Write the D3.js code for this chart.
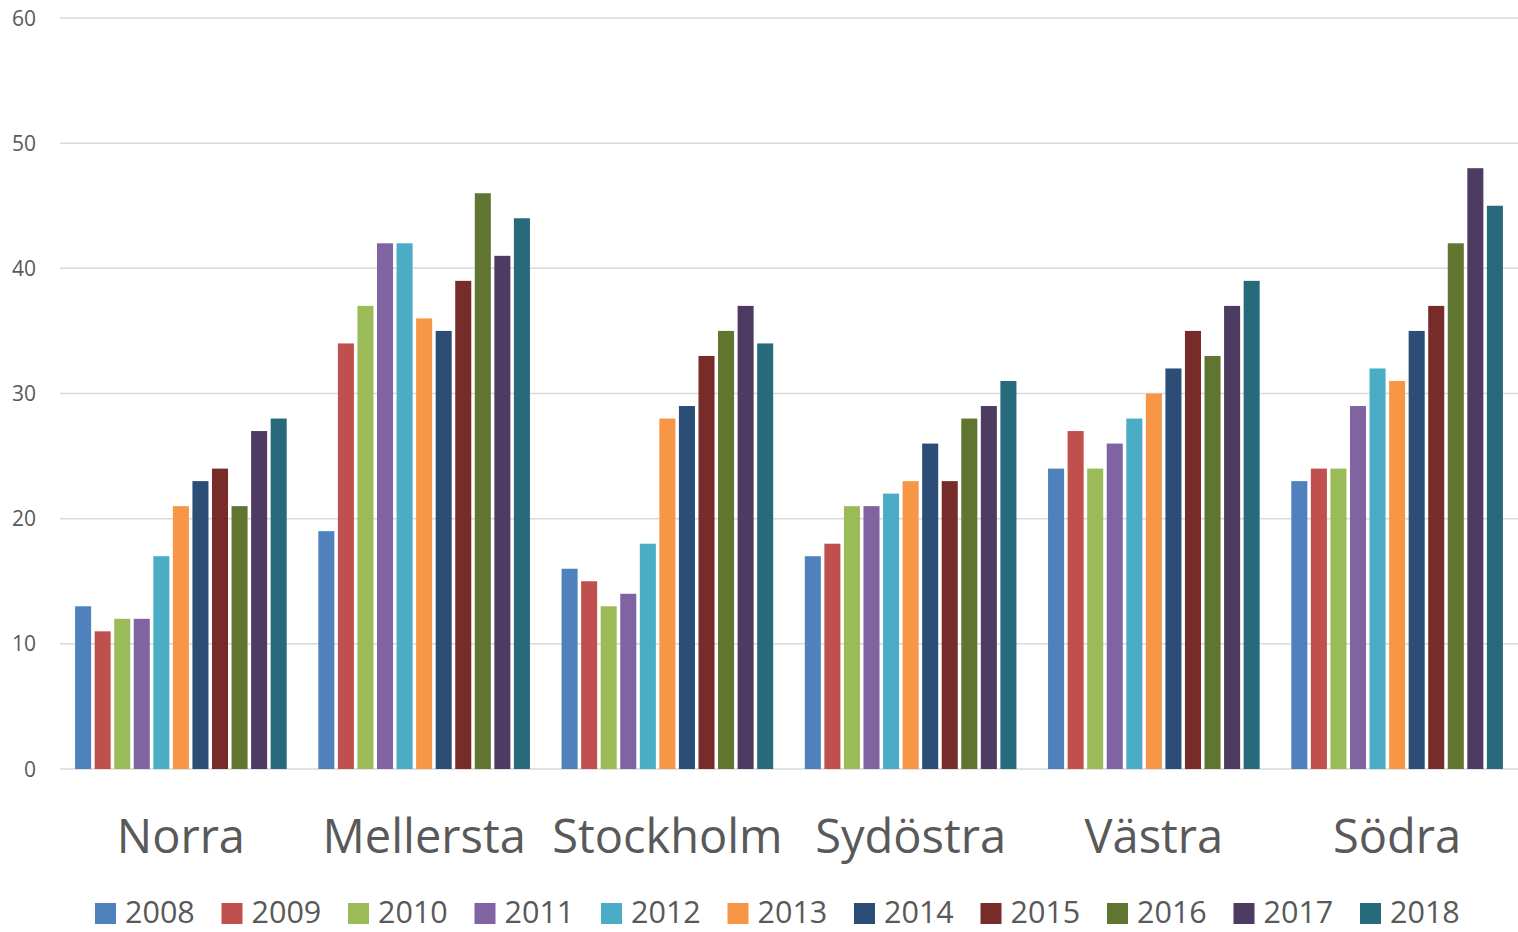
<!DOCTYPE html>
<html>
<head>
<meta charset="utf-8">
<script src="https://cdn.jsdelivr.net/npm/d3@7"></script>
<style>
  html, body { margin: 0; padding: 0; background: #fff; }
  svg { display: block; }
  text { font-family: "Open Sans", Lato, sans-serif; fill: #595959; }
</style>
</head>
<body>
<svg id="chart" width="1518" height="932"></svg>
<script>
const categories = ["Norra", "Mellersta", "Stockholm", "Sydöstra", "Västra", "Södra"];
const years = ["2008","2009","2010","2011","2012","2013","2014","2015","2016","2017","2018"];
const colors = ["#4F81BD","#C0504D","#9BBB59","#8064A2","#4BACC6","#F79646","#2C4D75","#772C2A","#5F7530","#4D3B62","#276A7C"];
const norra     = [13,11,12,12,17,21,23,24,21,27,28];
const mellersta = [19,34,37,42,42,36,35,39,46,41,44];
const stockholm = [16,15,13,14,18,28,29,33,35,37,34];
const sydostra  = [17,18,21,21,22,23,26,23,28,29,31];
const vastra    = [24,27,24,26,28,30,32,35,33,37,39];
const sodra     = [23,24,24,29,32,31,35,37,42,48,45];
const yTicks = [0,10,20,30,40,50,60];

const seriesByCat = [norra, mellersta, stockholm, sydostra, vastra, sodra];

(function () {
const svg = d3.select("#chart");
const pLeft = 60, pRight = 1518, pTop = 18, pBottom = 769;

const x0 = d3.scaleBand().domain(categories).range([pLeft, pRight]).paddingInner(0.13).paddingOuter(0.062);
const x1 = d3.scaleBand().domain(years).range([0, x0.bandwidth()]).paddingInner(0.18).paddingOuter(0);
const y = d3.scaleLinear().domain([0, 60]).range([pBottom, pTop]);

// gridlines
svg.append("g").selectAll("line").data(yTicks).join("line")
  .attr("x1", pLeft).attr("x2", pRight)
  .attr("y1", d => y(d)).attr("y2", d => y(d))
  .attr("stroke", "#d9d9d9").attr("stroke-width", 1.5);

// y tick labels
svg.append("g").selectAll("text").data(yTicks).join("text")
  .attr("x", 36).attr("y", d => y(d)).attr("dy", "0.36em")
  .attr("text-anchor", "end").attr("font-size", 21)
  .text(d => d);

// bars
const groups = svg.append("g").selectAll("g").data(categories).join("g")
  .attr("transform", d => `translate(${x0(d)},0)`);
groups.each(function(cat, ci) {
  d3.select(this).selectAll("rect").data(years.map((yr, i) => ({yr, v: seriesByCat[ci][i], c: colors[i]})))
    .join("rect")
    .attr("x", d => x1(d.yr))
    .attr("width", x1.bandwidth())
    .attr("y", d => y(d.v))
    .attr("height", d => y(0) - y(d.v))
    .attr("fill", d => d.c);
});

// category labels
svg.append("g").selectAll("text").data(categories).join("text")
  .attr("x", d => x0(d) + x0.bandwidth() / 2)
  .attr("y", 853)
  .attr("text-anchor", "middle").attr("font-size", 47)
  .text(d => d);

// legend
const legStart = 95, legStep = 126.5;
const leg = svg.append("g").selectAll("g").data(years).join("g")
  .attr("transform", (d, i) => `translate(${legStart + i * legStep},0)`);
leg.append("rect").attr("x", 0).attr("y", 903).attr("width", 21).attr("height", 21)
  .attr("fill", (d, i) => colors[i]);
leg.append("text").attr("x", 30).attr("y", 923)
  .attr("font-size", 30.5).text(d => d);
})();
</script>
</body>
</html>
